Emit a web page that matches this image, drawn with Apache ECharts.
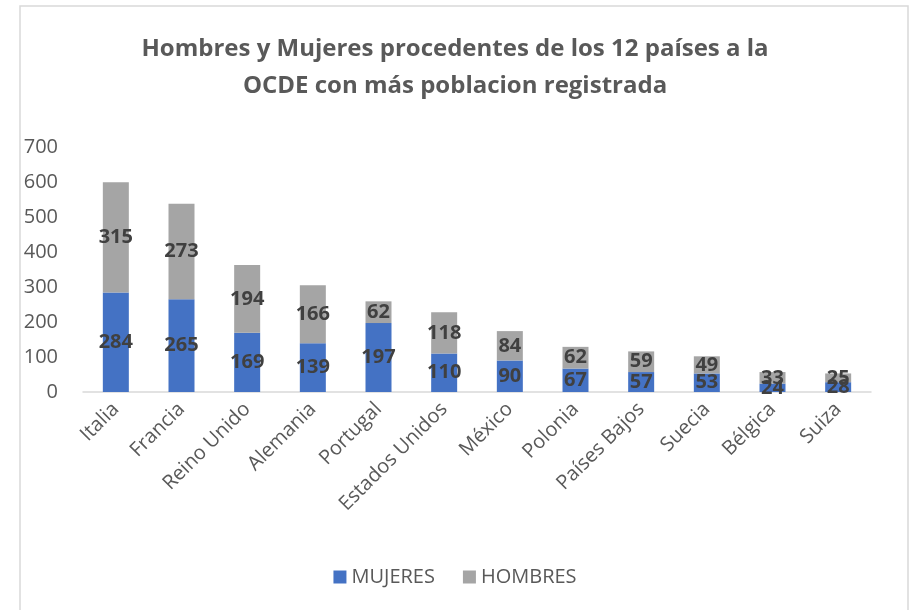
<!DOCTYPE html>
<html>
<head>
<meta charset="utf-8">
<script src="https://cdn.jsdelivr.net/npm/echarts@6/dist/echarts.min.js"></script>
<style>
  html, body { margin: 0; padding: 0; background: #fff; }
  #chart { width: 910px; height: 610px; }
</style>
</head>
<body>
<div id="chart"></div>
<script>
const paises = ['Italia', 'Francia', 'Reino Unido', 'Alemania', 'Portugal', 'Estados Unidos',
  'México', 'Polonia', 'Países Bajos', 'Suecia', 'Bélgica', 'Suiza']
const mujeres = [284, 265, 169, 139, 197, 110, 90, 67, 57, 53, 24, 28]
const hombres = [315, 273, 194, 166, 62, 118, 84, 62, 59, 49, 33, 25]
const yTicks = [0, 100, 200, 300, 400, 500, 600, 700]

const font = 'Open Sans'
const chart = echarts.init(document.getElementById('chart'))

const labelStyle = {
  show: true,
  position: 'inside',
  color: '#404040',
  fontWeight: 'bold',
  fontSize: 20,
  fontFamily: font
}

const option = {
  animation: false,
  textStyle: { fontFamily: font },
  title: {
    text: 'Hombres y Mujeres procedentes de los 12 países a la\nOCDE con más poblacion registrada',
    left: 'center',
    top: 26,
    textStyle: {
      color: '#595959',
      fontSize: 24,
      fontWeight: 'bold',
      lineHeight: 37,
      fontFamily: font
    }
  },
  graphic: [{
    type: 'rect',
    shape: { x: 20, y: 6, width: 888, height: 620 },
    style: { fill: 'none', stroke: '#d9d9d9', lineWidth: 1.5 },
    silent: true
  }],
  legend: {
    bottom: 18,
    left: 'center',
    itemWidth: 13,
    itemHeight: 13,
    itemGap: 28,
    icon: 'rect',
    textStyle: { color: '#595959', fontSize: 20, fontFamily: font },
    data: ['MUJERES', 'HOMBRES']
  },
  grid: {
    left: 83,
    right: 39,
    top: 147,
    bottom: 218,
    containLabel: false
  },
  xAxis: {
    type: 'category',
    data: paises,
    axisTick: { show: false },
    axisLine: { lineStyle: { color: '#d9d9d9', width: 1.5 } },
    axisLabel: {
      rotate: 45,
      interval: 0,
      color: '#595959',
      fontSize: 20,
      margin: 14
    }
  },
  yAxis: {
    type: 'value',
    min: yTicks[0],
    max: yTicks[yTicks.length - 1],
    interval: 100,
    splitLine: { show: false },
    axisLine: { show: false },
    axisTick: { show: false },
    axisLabel: { color: '#595959', fontSize: 20, margin: 25 }
  },
  series: [
    {
      name: 'MUJERES',
      type: 'bar',
      stack: 'total',
      barWidth: 26,
      data: mujeres,
      itemStyle: { color: '#4472C4' },
      label: labelStyle
    },
    {
      name: 'HOMBRES',
      type: 'bar',
      stack: 'total',
      barWidth: 26,
      data: hombres,
      itemStyle: { color: '#A5A5A5' },
      label: labelStyle
    }
  ]
}

chart.setOption(option)
</script>
</body>
</html>
